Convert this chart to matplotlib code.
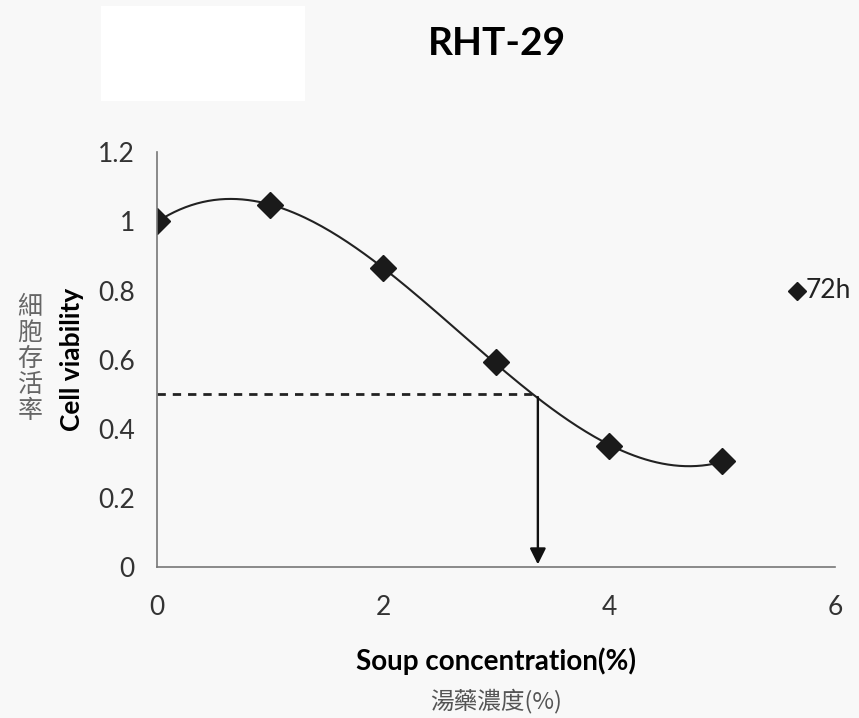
import numpy as np
from matplotlib import pyplot as plt
from matplotlib.patches import Rectangle

plt.rcParams['font.family'] = ['Lato', 'DejaVu Sans']

# data
conc = [0, 1, 2, 3, 4, 5]
viability = [1.0, 1.046, 0.866, 0.592, 0.35, 0.306]
ic50_y = 0.5
ic50_x = 3.37
x_ticks = [0, 2, 4, 6]
y_ticks = [0, 0.2, 0.4, 0.6, 0.8, 1.0, 1.2]
y_labels = ['0', '0.2', '0.4', '0.6', '0.8', '1', '1.2']

fig = plt.figure(figsize=(8.59, 7.18), dpi=100)
fig.patch.set_facecolor('#f8f8f8')
fig.patches.append(Rectangle((0.118, 0.86), 0.237, 0.132, transform=fig.transFigure,
                             facecolor='white', edgecolor='none'))

ax = fig.add_axes([0.183, 0.21, 0.789, 0.578])
ax.set_facecolor('none')

# third order trend line through the points
coef = np.polyfit(conc, viability, 3)
xs = np.linspace(conc[0], conc[-1], 200)
ax.plot(xs, np.polyval(coef, xs), color='#222222', lw=1.5)
ax.plot(conc, viability, linestyle='none', marker='D', ms=13, color='#1a1a1a')

ax.plot([0, ic50_x], [ic50_y, ic50_y], color='#222222', lw=2, linestyle=(0, (3, 2.5)))
ax.annotate('', xy=(ic50_x, 0), xytext=(ic50_x, ic50_y),
            arrowprops=dict(arrowstyle='-|>', color='#111111', lw=1.7, mutation_scale=24))

ax.set_xlim(0, 6)
ax.set_ylim(0, 1.2)
ax.set_xticks(x_ticks)
ax.set_yticks(y_ticks)
ax.set_yticklabels(y_labels)
ax.tick_params(length=0, labelsize=19, labelcolor='#333333')
ax.tick_params(axis='x', pad=20)
ax.tick_params(axis='y', pad=16)
for side in ['top', 'right']:
    ax.spines[side].set_visible(False)
for side in ['left', 'bottom']:
    ax.spines[side].set_color('#777777')
    ax.spines[side].set_linewidth(1.2)

ax.set_xlabel('Soup concentration(%)', fontsize=20, fontweight='bold', labelpad=20)
ax.set_ylabel('Cell viability', fontsize=19, fontweight='bold', labelpad=10)

fig.text(0.579, 0.94, 'RHT-29', fontsize=28, fontweight='bold', ha='center', va='center')
fig.text(0.578, 0.024, '湯藥濃度(%)', fontsize=17, color='#555555', ha='center', va='center',
         family=['Noto Sans CJK TC', 'DejaVu Sans'])
fig.text(0.035, 0.5, '細\n胞\n存\n活\n率', fontsize=18, color='#666666', ha='center', va='center',
         linespacing=1.0, family=['Noto Sans CJK TC', 'DejaVu Sans'])

# legend entry
ax.plot([5.66], [0.8], linestyle='none', marker='D', ms=9, color='#1a1a1a', clip_on=False)
ax.text(5.74, 0.8, '72h', fontsize=19, va='center', ha='left', color='#222222')

fig.savefig('out.png', dpi=100, facecolor=fig.get_facecolor())
